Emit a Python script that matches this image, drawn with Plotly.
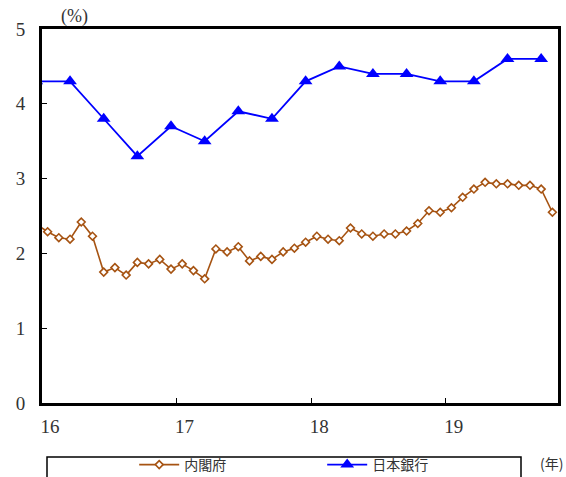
import pandas as pd
import plotly.graph_objects as go

# 内閣府: monthly, 2015-12 .. 2019-10
cao_months = pd.period_range("2015-12", "2019-10", freq="M").astype(str).tolist()
cao_values = [
    2.39,
    2.29, 2.21, 2.19, 2.42, 2.23, 1.75, 1.81, 1.71, 1.88, 1.86, 1.92, 1.79,
    1.86, 1.77, 1.66, 2.06, 2.02, 2.09, 1.90, 1.96, 1.92, 2.02, 2.07, 2.15,
    2.23, 2.19, 2.17, 2.34, 2.26, 2.23, 2.26, 2.26, 2.30, 2.40, 2.57, 2.55,
    2.61, 2.75, 2.86, 2.95, 2.93, 2.93, 2.91, 2.91, 2.86, 2.55,
]

# 日本銀行: quarterly (Mar/Jun/Sep/Dec), 2015-12 .. 2019-09
boj_months = ["2015-12",
              "2016-03", "2016-06", "2016-09", "2016-12",
              "2017-03", "2017-06", "2017-09", "2017-12",
              "2018-03", "2018-06", "2018-09", "2018-12",
              "2019-03", "2019-06", "2019-09"]
boj_values = [4.3,
              4.3, 3.8, 3.3, 3.7,
              3.5, 3.9, 3.8, 4.3,
              4.5, 4.4, 4.4, 4.3,
              4.3, 4.6, 4.6]

year_ticks = [16, 17, 18, 19]
y_ticks = [0, 1, 2, 3, 4, 5]


def month_to_year(m):
    """Position of a month's midpoint on a two-digit-year axis."""
    y, mo = m.split("-")
    return int(y) - 2000 + (int(mo) - 0.5) / 12


cao_x = [month_to_year(m) for m in cao_months]
boj_x = [month_to_year(m) for m in boj_months]

BROWN = "#A65312"
BLUE = "#0000FF"

fig = go.Figure()
fig.add_trace(go.Scatter(
    x=cao_x, y=cao_values, name="内閣府", mode="lines+markers",
    line=dict(color=BROWN, width=1.6),
    marker=dict(symbol="diamond", size=6, color="white",
                line=dict(color=BROWN, width=1.6)),
    cliponaxis=True,
))
fig.add_trace(go.Scatter(
    x=boj_x, y=boj_values, name="日本銀行", mode="lines+markers",
    line=dict(color=BLUE, width=1.8),
    marker=dict(symbol="triangle-up", size=12, color=BLUE,
                line=dict(color=BLUE, width=0)),
    cliponaxis=True,
))

serif = "Liberation Serif"
sans_jp = "Noto Sans CJK JP"
x_end = 16 + 46 / 12
tick_font = go.layout.xaxis.Tickfont(family=serif, size=19, color="#333333")

# plot-area geometry in pixels, used to place the frame-relative items
L, R, T, B = 42, 558, 29, 403
W, H = R - L, B - T


def px_x(px):
    return (px - L) / W


def px_y(py):
    return (B - py) / H


fig.update_layout(
    width=566, height=477,
    font=dict(family=serif, size=19, color="#333333"),
    margin=dict(l=L, r=566 - R, t=T, b=477 - B, autoexpand=False),
    paper_bgcolor="white", plot_bgcolor="white",
    showlegend=True,
    legend=dict(
        orientation="h", x=0.543, xanchor="center",
        y=px_y(465), yanchor="middle",
        font=dict(family=sans_jp, size=14, color="#333333"),
        bgcolor="rgba(0,0,0,0)", borderwidth=0,
        itemwidth=40, entrywidth=133, entrywidthmode="pixels",
        itemclick=False, itemdoubleclick=False,
    ),
    shapes=[dict(
        type="rect", xref="paper", yref="paper",
        x0=px_x(47), x1=px_x(521),
        y0=px_y(485), y1=px_y(457),
        line=dict(color="black", width=1.5),
    )],
    annotations=[
        dict(text="(%)", xref="paper", yref="paper",
             x=px_x(74), y=px_y(16), xanchor="center", yanchor="middle",
             showarrow=False, font=dict(family=serif, size=18, color="#333333")),
        dict(text="(年)", xref="paper", yref="paper",
             x=px_x(551), y=px_y(463), xanchor="center", yanchor="middle",
             showarrow=False,
             font=dict(family=sans_jp, size=14, color="#333333")),
    ],
)
fig.update_xaxes(
    range=[16, x_end], tickvals=year_ticks,
    ticktext=[str(t) for t in year_ticks],
    ticks="inside", ticklen=5, tickwidth=1, tickcolor="black",
    showgrid=False, zeroline=False,
    showline=True, linecolor="black", linewidth=3, mirror=True,
    tickfont=tick_font,
    ticklabelshift=8, ticklabelstandoff=4,
)
fig.update_yaxes(
    range=[0, 5], tickvals=y_ticks,
    ticks="inside", ticklen=5, tickwidth=1, tickcolor="black",
    showgrid=False, zeroline=False,
    showline=True, linecolor="black", linewidth=3, mirror=True,
    tickfont=dict(family=serif, size=19, color="#333333"),
    ticklabelstandoff=10,
)

fig.write_html("out.html")
